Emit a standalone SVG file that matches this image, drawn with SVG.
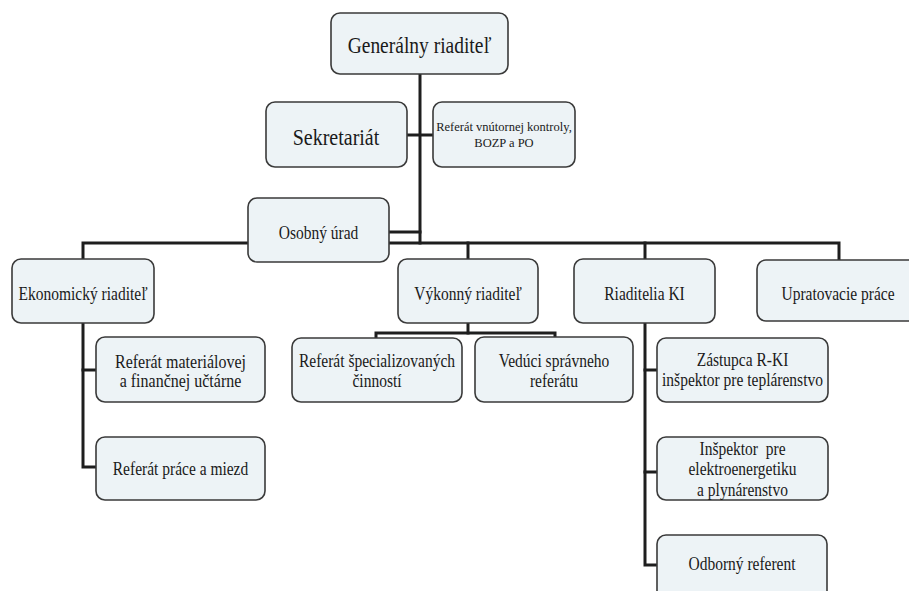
<svg xmlns="http://www.w3.org/2000/svg" width="909" height="591" viewBox="0 0 909 591">
<style>
.box{fill:#edf3f6;stroke:#3a3a3a;stroke-width:1.6}
.t{font-family:"Liberation Serif","Times New Roman",serif;font-size:15.5px;fill:#1a1a1a;text-anchor:middle}
.big{font-size:19.5px}
.sek{font-size:20px}
.m16{font-size:16px}
.small{font-size:12.5px}
.c{fill:none;stroke:#1e1e1e;stroke-width:3;stroke-linecap:square}
</style>
<rect width="909" height="591" fill="#ffffff"/>
<g id="connectors">
<path class="c" d="M420 74V243"/>
<path class="c" d="M407 135H433"/>
<path class="c" d="M389 232H420"/>
<path class="c" d="M83 259V243H839V260"/>
<path class="c" d="M468 243V259"/>
<path class="c" d="M645 243V259"/>
<path class="c" d="M83 323V467H96"/>
<path class="c" d="M83 370H96"/>
<path class="c" d="M468 323V333"/>
<path class="c" d="M376 338V333H555V337"/>
<path class="c" d="M645 323V565H657"/>
<path class="c" d="M645 370H657"/>
<path class="c" d="M645 472H657"/>
</g>
<g id="generalny"><rect class="box" x="331" y="13" width="177" height="61" rx="9"/><text class="t big" transform="translate(419.5 53) scale(1 1.2)">Generálny riaditeľ</text></g>
<g id="sekretariat"><rect class="box" x="266" y="102" width="141" height="65" rx="9"/><text class="t sek" transform="translate(336 145) scale(1 1.15)">Sekretariát</text></g>
<g id="vnut-kontrola"><rect class="box" x="433" y="102" width="142" height="65" rx="9"/><text class="t small" x="504" y="131">Referát vnútornej kontroly,</text><text class="t small" x="504" y="147">BOZP a PO</text></g>
<g id="osobny"><rect class="box" x="248" y="198" width="141" height="64" rx="9"/><text class="t" transform="translate(318.5 239) scale(1 1.2)">Osobný úrad</text></g>
<g id="ekonomicky"><rect class="box" x="12" y="259" width="142" height="64" rx="9"/><text class="t" transform="translate(83 300) scale(1 1.2)">Ekonomický riaditeľ</text></g>
<g id="vykonny"><rect class="box" x="398" y="259" width="140" height="64" rx="9"/><text class="t" transform="translate(468 300) scale(1 1.2)">Výkonný riaditeľ</text></g>
<g id="riaditelia-ki"><rect class="box" x="574" y="259" width="141" height="64" rx="9"/><text class="t" transform="translate(644.5 300) scale(1 1.2)">Riaditelia KI</text></g>
<g id="upratovacie"><rect class="box" x="757" y="260" width="162" height="61" rx="9"/><text class="t" transform="translate(838 300) scale(1 1.2)">Upratovacie práce</text></g>
<g id="ref-material"><rect class="box" x="96" y="337" width="169" height="65" rx="9"/><text class="t m16" transform="translate(180.5 368) scale(1 1.15)">Referát materiálovej</text><text class="t m16" transform="translate(180.5 387) scale(1 1.15)">a finančnej učtárne</text></g>
<g id="ref-prace"><rect class="box" x="96" y="437" width="169" height="63" rx="9"/><text class="t" transform="translate(180.5 475) scale(1 1.2)">Referát práce a miezd</text></g>
<g id="ref-special"><rect class="box" x="292" y="338" width="170" height="64" rx="9"/><text class="t" transform="translate(377 367) scale(1 1.2)">Referát špecializovaných</text><text class="t" transform="translate(377 387) scale(1 1.2)">činností</text></g>
<g id="veduci"><rect class="box" x="475" y="337" width="158" height="65" rx="9"/><text class="t" transform="translate(554 367) scale(1 1.2)">Vedúci správneho</text><text class="t" transform="translate(554 387) scale(1 1.2)">referátu</text></g>
<g id="zastupca"><rect class="box" x="657" y="338" width="171" height="64" rx="9"/><text class="t" transform="translate(742.5 366) scale(1 1.2)">Zástupca R-KI</text><text class="t" transform="translate(742.5 386) scale(1 1.2)">inšpektor pre teplárenstvo</text></g>
<g id="inspektor"><rect class="box" x="657" y="437" width="171" height="63" rx="9"/><text class="t" transform="translate(742.5 455) scale(1 1.2)" xml:space="preserve">Inšpektor  pre</text><text class="t" transform="translate(742.5 475) scale(1 1.2)">elektroenergetiku</text><text class="t" transform="translate(742.5 496) scale(1 1.2)">a plynárenstvo</text></g>
<g id="odborny"><rect class="box" x="657" y="535" width="170" height="70" rx="9"/><text class="t" transform="translate(742 570) scale(1 1.2)">Odborný referent</text></g>
</svg>
